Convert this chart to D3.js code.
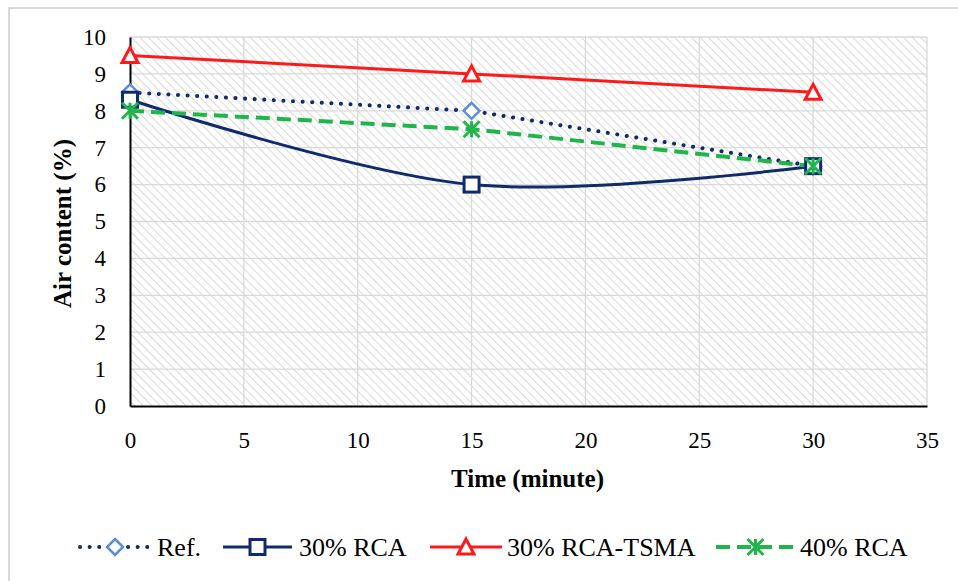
<!DOCTYPE html>
<html><head><meta charset="utf-8">
<script src="https://cdn.jsdelivr.net/npm/d3@7"></script>
<style>body{margin:0;background:#fff}svg{display:block}text{font-family:"Liberation Serif","Times New Roman",serif;fill:#000}</style>
</head><body>
<svg id="c" width="958" height="581"></svg>
<script>
const times = [0, 15, 30];
const seriesNames = ["Ref.", "30% RCA", "30% RCA-TSMA", "40% RCA"];
const refValues = [8.5, 8.0, 6.5];
const rca30Values = [8.3, 6.0, 6.5];
const tsma30Values = [9.5, 9.0, 8.5];
const rca40Values = [8.0, 7.5, 6.5];
const xTicks = [0, 5, 10, 15, 20, 25, 30, 35];
const yTicks = [0, 1, 2, 3, 4, 5, 6, 7, 8, 9, 10];

const FONT = "Liberation Serif";
const svg = d3.select("#c");
const m = {l:130, r:927, t:37, b:406};
const x = d3.scaleLinear().domain([0,35]).range([m.l, m.r]);
const y = d3.scaleLinear().domain([0,10]).range([m.b, m.t]);

// outer border
svg.append("rect").attr("x",9).attr("y",8).attr("width",960).attr("height",600)
  .attr("fill","none").attr("stroke","#d9d9d9").attr("stroke-width",2);

// hatch pattern
const defs = svg.append("defs");
const pat = defs.append("pattern").attr("id","hatch").attr("patternUnits","userSpaceOnUse")
  .attr("width",6).attr("height",6).attr("patternTransform","rotate(-45)");
pat.append("line").attr("x1",0).attr("y1",0).attr("x2",0).attr("y2",6)
  .attr("stroke","#cfcfcf").attr("stroke-width",1.6);
svg.append("rect").attr("x",m.l).attr("y",m.t).attr("width",m.r-m.l).attr("height",m.b-m.t)
  .attr("fill","url(#hatch)");

// grid
const g = svg.append("g");
g.selectAll(".hg").data(yTicks.slice(1)).join("line")
  .attr("x1",m.l).attr("x2",m.r).attr("y1",d=>y(d)).attr("y2",d=>y(d))
  .attr("stroke","#d9d9d9").attr("stroke-width",1.3);
g.selectAll(".vg").data(xTicks.slice(1)).join("line")
  .attr("y1",m.t).attr("y2",m.b).attr("x1",d=>x(d)).attr("x2",d=>x(d))
  .attr("stroke","#d9d9d9").attr("stroke-width",1.3);

// axes
const xa = svg.append("g").attr("transform",`translate(0,${m.b})`)
  .call(d3.axisBottom(x).tickValues(xTicks).tickSize(0).tickPadding(26))
  .attr("font-family",FONT).attr("font-size",23);
xa.select(".domain").attr("stroke","#000").attr("stroke-width",2);
xa.selectAll("text").attr("fill","#000");
const ya = svg.append("g").attr("transform",`translate(${m.l},0)`)
  .call(d3.axisLeft(y).tickValues(yTicks).tickSize(0).tickPadding(24))
  .attr("font-family",FONT).attr("font-size",23);
ya.select(".domain").attr("stroke","#000").attr("stroke-width",2);
ya.selectAll("text").attr("fill","#000");

// titles
svg.append("text").attr("x",(m.l+m.r)/2 - 1).attr("y",487).attr("text-anchor","middle")
  .attr("font-family",FONT).attr("font-size",25).attr("font-weight","bold").text("Time (minute)");
svg.append("text").attr("transform",`translate(71,${(m.t+m.b)/2 + 2}) rotate(-90)`)
  .attr("text-anchor","middle").attr("font-family",FONT).attr("font-size",25).attr("font-weight","bold").text("Air content (%)");

const navy = "#102a6e", red = "#ff1a1a", green = "#1fb54b", lblue = "#5b8ed6";
const series = [
  {name:seriesNames[0], vals:refValues, color:navy, dash:"0.1,9.5", cap:"round", w:4, curve:d3.curveLinear, marker:"diamond", mcolor:lblue},
  {name:seriesNames[1], vals:rca30Values, color:navy, dash:null, cap:"butt", w:3, curve:d3.curveCatmullRom.alpha(0.5), marker:"square", mcolor:navy},
  {name:seriesNames[2], vals:tsma30Values, color:red, dash:null, cap:"butt", w:3, curve:d3.curveLinear, marker:"triangle", mcolor:red},
  {name:seriesNames[3], vals:rca40Values, color:green, dash:"14,7", cap:"butt", w:4, curve:d3.curveLinear, marker:"star", mcolor:green}
];

function drawMarker(sel, type, cx, cy, col){
  if(type==="diamond"){
    sel.append("path").attr("d",`M${cx},${cy-8}L${cx+8},${cy}L${cx},${cy+8}L${cx-8},${cy}Z`)
      .attr("fill","#fff").attr("stroke",col).attr("stroke-width",2.5);
  } else if(type==="square"){
    sel.append("rect").attr("x",cx-7.5).attr("y",cy-7.5).attr("width",15).attr("height",15)
      .attr("fill","#fff").attr("stroke",col).attr("stroke-width",3);
  } else if(type==="triangle"){
    sel.append("path").attr("d",`M${cx},${cy-8}L${cx+8},${cy+7}L${cx-8},${cy+7}Z`)
      .attr("fill","#fff").attr("stroke",col).attr("stroke-width",3).attr("stroke-linejoin","miter");
  } else if(type==="star"){
    const r=8;
    sel.append("path").attr("d",`M${cx-r},${cy-r}L${cx+r},${cy+r}M${cx-r},${cy+r}L${cx+r},${cy-r}M${cx},${cy-r}L${cx},${cy+r}`)
      .attr("stroke",col).attr("stroke-width",3).attr("fill","none");
  }
}

series.forEach(s=>{
  const line = d3.line().x((d,i)=>x(times[i])).y(d=>y(d)).curve(s.curve);
  svg.append("path").attr("d",line(s.vals)).attr("fill","none").attr("stroke",s.color)
    .attr("stroke-width",s.w).attr("stroke-dasharray",s.dash).attr("stroke-linecap",s.cap);
});
[0,2,1,3].forEach(k=>{
  const s=series[k];
  const mg = svg.append("g");
  s.vals.forEach((v,i)=>drawMarker(mg, s.marker, x(times[i]), y(v), s.mcolor));
});

// legend
const legLine = [[80,150],[223,292],[430,502],[716,795]];
const legText = [157, 299, 507, 800];
const ly = 547;
series.forEach((s,i)=>{
  const lg = svg.append("g");
  const [a,b] = legLine[i];
  lg.append("line").attr("x1",a).attr("x2",b).attr("y1",ly).attr("y2",ly)
    .attr("stroke",s.color).attr("stroke-width",s.w).attr("stroke-dasharray",s.dash).attr("stroke-linecap",s.cap);
  drawMarker(lg, s.marker, (a+b)/2, ly, s.mcolor);
  lg.append("text").attr("x",legText[i]).attr("y",ly+9).attr("font-family",FONT).attr("font-size",26).text(s.name);
});
</script>
</body></html>
